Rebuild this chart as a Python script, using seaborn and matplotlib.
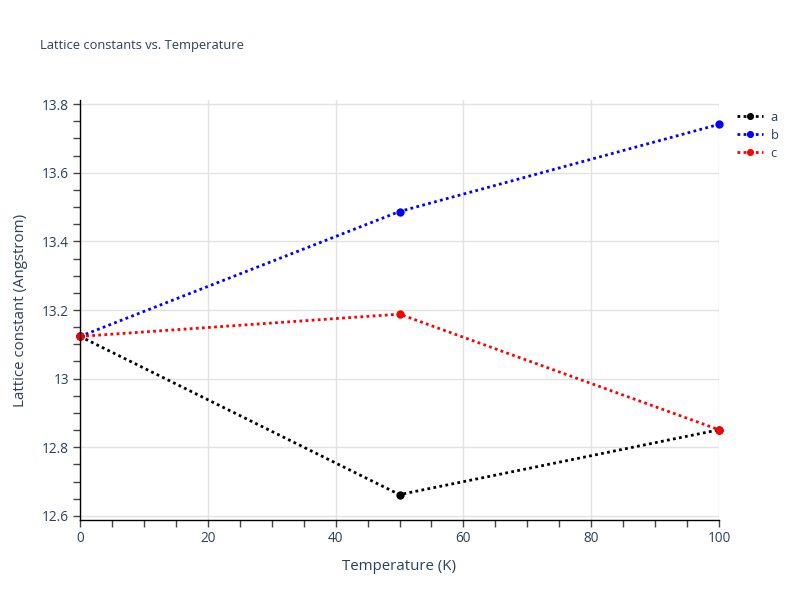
import numpy as np
import pandas as pd
import matplotlib
matplotlib.use("Agg")
import matplotlib.pyplot as plt
import seaborn as sns
from matplotlib.ticker import MultipleLocator

temperature = [0, 50, 100]
lattice_a = [13.123, 12.662, 12.851]
lattice_b = [13.123, 13.487, 13.741]
lattice_c = [13.123, 13.188, 12.851]
series_names = ["a", "b", "c"]
series_colors = ["black", "blue", "red"]

df = pd.DataFrame({
    "Temperature": temperature * 3,
    "Lattice": lattice_a + lattice_b + lattice_c,
    "series": [s for s in series_names for _ in temperature],
})

sns.set_style("white")
plt.rcParams["font.family"] = ["Open Sans", "DejaVu Sans"]
text_col = "#2a3f5f"

fig = plt.figure(figsize=(8, 6), dpi=100)
ax = fig.add_axes([80 / 800, 1 - 520 / 600, 639 / 800, 420 / 600])

sns.lineplot(data=df, x="Temperature", y="Lattice", hue="series",
             palette=dict(zip(series_names, series_colors)),
             marker="o", markersize=6, markeredgewidth=0,
             linestyle=":", linewidth=2, ax=ax, legend=True)
for line in ax.get_lines():
    line.set_linestyle((0, (1, 1.2)))
    line.set_clip_on(False)

ax.set_xlim(0, 100)
ax.set_ylim(12.588, 13.812)
ax.xaxis.set_major_locator(MultipleLocator(20))
ax.xaxis.set_minor_locator(MultipleLocator(5))
ax.yaxis.set_minor_locator(MultipleLocator(0.05))
ax.set_yticks(np.arange(12.6, 13.81, 0.2))
ax.set_yticklabels(["12.6", "12.8", "13", "13.2", "13.4", "13.6", "13.8"])

ax.grid(True, which="major", color="#e2e2e2", linewidth=1)
ax.set_axisbelow(True)
for side in ["top", "right"]:
    ax.spines[side].set_visible(False)
for side in ["left", "bottom"]:
    ax.spines[side].set_color("black")
    ax.spines[side].set_linewidth(1)
ax.tick_params(which="major", direction="out", length=5, width=1, color="#444444",
               labelsize=9.8, labelcolor=text_col, pad=3)
ax.tick_params(which="minor", direction="out", length=5, width=1, color="#444444")
ax.tick_params(axis="x", which="both", bottom=True)
ax.tick_params(axis="y", which="both", left=True)

ax.set_xlabel("Temperature (K)", fontsize=10.8, color=text_col, labelpad=9)
ax.set_ylabel("Lattice constant (Angstrom)", fontsize=10.8, color=text_col, labelpad=10)
fig.text(40 / 800, 1 - 46 / 600, "Lattice constants vs. Temperature",
         fontsize=9.3, color=text_col, va="center", ha="left")

leg = ax.legend(loc="upper left", bbox_to_anchor=(1.02, 0.987), frameon=False,
                fontsize=9.3, labelcolor=text_col, handlelength=2.0,
                handletextpad=0.6, borderaxespad=0, labelspacing=0.4,
                markerscale=0.85)
for h in leg.legend_handles:
    h.set_linestyle((0, (1, 1.2)))
    h.set_linewidth(2)

fig.savefig("out.png", dpi=100)
